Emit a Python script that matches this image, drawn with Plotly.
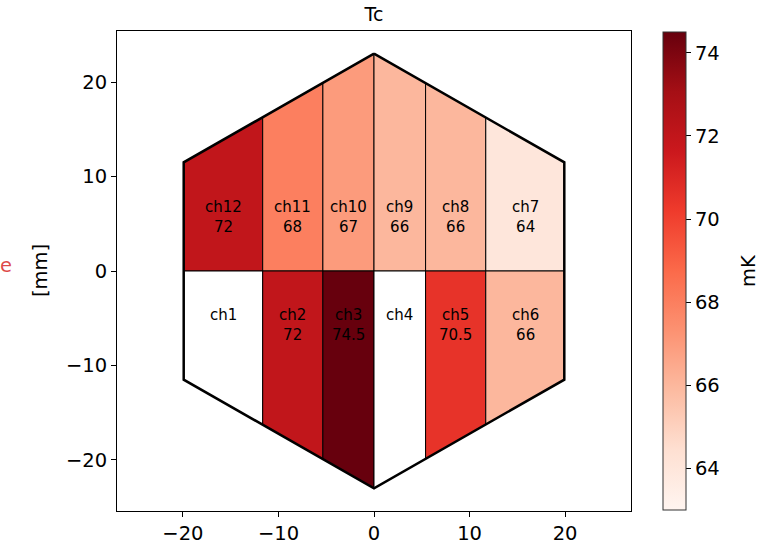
import math
import plotly.graph_objects as go
from plotly.colors import sample_colorscale

# ---- data ----
channels = ["ch1", "ch2", "ch3", "ch4", "ch5", "ch6",
            "ch7", "ch8", "ch9", "ch10", "ch11", "ch12"]
tc_mK = [None, 72, 74.5, None, 70.5, 66, 64, 66, 66, 67, 68, 72]
top_row = ["ch12", "ch11", "ch10", "ch9", "ch8", "ch7"]
bottom_row = ["ch1", "ch2", "ch3", "ch4", "ch5", "ch6"]
strip_edges = [-19.92, -11.65, -5.35, 0.0, 5.4, 11.7, 19.92]
hex_radius = 23.0
c_min, c_max = 63.0, 74.5
tick_vals = [-20, -10, 0, 10, 20]
cbar_ticks = [64, 66, 68, 70, 72, 74]

REDS = [[0.0, "rgb(255,245,240)"], [0.125, "rgb(254,224,210)"], [0.25, "rgb(252,187,161)"],
        [0.375, "rgb(252,146,114)"], [0.5, "rgb(251,106,74)"], [0.625, "rgb(239,59,44)"],
        [0.75, "rgb(203,24,29)"], [0.875, "rgb(165,15,21)"], [1.0, "rgb(103,0,13)"]]

value_of = dict(zip(channels, tc_mK))
tan30 = math.tan(math.radians(30))


def edge_y(x):
    return hex_radius - abs(x) * tan30


def fmt(v):
    return f"{v:g}"


fig = go.Figure()
annotations = []
label_y = 5.7

for row, sign in ((top_row, 1), (bottom_row, -1)):
    for i, ch in enumerate(row):
        x0, x1 = strip_edges[i], strip_edges[i + 1]
        xs = [x0, x1, x1, x0, x0]
        ys = [0, 0, sign * edge_y(x1), sign * edge_y(x0), 0]
        v = value_of[ch]
        if v is None:
            col = "white"
            txt = f"{ch}<br>&nbsp;"
        else:
            col = sample_colorscale(REDS, [(v - c_min) / (c_max - c_min)])[0]
            txt = f"{ch}<br>{fmt(v)}"
        fig.add_trace(go.Scatter(x=xs, y=ys, mode="lines", fill="toself", fillcolor=col,
                                 line=dict(color="black", width=1), hoverinfo="skip",
                                 showlegend=False))
        annotations.append(dict(x=(x0 + x1) / 2, y=sign * label_y, xref="x", yref="y",
                                text=txt, showarrow=False,
                                font=dict(family="DejaVu Sans", size=15, color="black")))

# hexagon outline
hx, hy = [], []
for k in range(7):
    ang = math.radians(90 + 60 * k)
    hx.append(hex_radius * math.cos(ang))
    hy.append(hex_radius * math.sin(ang))
fig.add_trace(go.Scatter(x=hx, y=hy, mode="lines", line=dict(color="black", width=2.5),
                         hoverinfo="skip", showlegend=False))

# colorbar
fig.add_trace(go.Scatter(x=[None], y=[None], mode="markers", showlegend=False,
                         marker=dict(color=[c_min, c_max], colorscale=REDS, cmin=c_min, cmax=c_max,
                                     showscale=True,
                                     colorbar=dict(x=(663 - 117) / 514, xanchor="left", xref="paper",
                                                   y=(511 - 510) / 480, yanchor="bottom",
                                                   len=478 / 480, lenmode="fraction",
                                                   thickness=23, xpad=0, ypad=0,
                                                   outlinewidth=1, outlinecolor="#333",
                                                   tickvals=cbar_ticks, ticks="outside",
                                                   ticklen=5, tickcolor="black",
                                                   tickfont=dict(family="DejaVu Sans", size=19.5,
                                                                 color="black")))))

annotations += [
    dict(x=-0.1498, y=0.5, xref="paper", yref="paper", text="[mm]", textangle=-90,
         showarrow=False, xanchor="center", yanchor="middle",
         font=dict(family="DejaVu Sans", size=19.5, color="black")),
    dict(x=(748 - 117) / 514, y=0.5, xref="paper", yref="paper", text="mK", textangle=-90,
         showarrow=False, xanchor="center", yanchor="middle",
         font=dict(family="DejaVu Sans", size=19.5, color="black")),
    dict(x=-119 / 514, y=(511 - 265) / 480, xref="paper", yref="paper", text="e",
         showarrow=False, xanchor="left", yanchor="middle",
         font=dict(family="DejaVu Sans", size=19.5, color="rgba(215,40,40,0.85)")),
]

axis_common = dict(showgrid=False, zeroline=False, showline=True, mirror=True,
                   linecolor="black", linewidth=1, ticks="outside", ticklen=5,
                   tickcolor="black", tickvals=tick_vals, automargin=False,
                   tickfont=dict(family="DejaVu Sans", size=19.5, color="black"))

fig.update_layout(
    width=759, height=548,
    margin=dict(l=117, r=128, t=31, b=37, autoexpand=False),
    paper_bgcolor="white", plot_bgcolor="white",
    title=dict(text="Tc", x=(374) / 759, xanchor="center", y=1 - 14 / 548, yanchor="middle",
               font=dict(family="DejaVu Sans", size=19, color="black")),
    xaxis=dict(range=[-26.9, 26.9], **axis_common),
    yaxis=dict(range=[-25.4, 25.4], **axis_common),
    annotations=annotations,
)

fig.write_html("out.html", config={"displayModeBar": False},
               post_script="document.body.style.margin='0px';document.body.style.overflow='hidden';")
